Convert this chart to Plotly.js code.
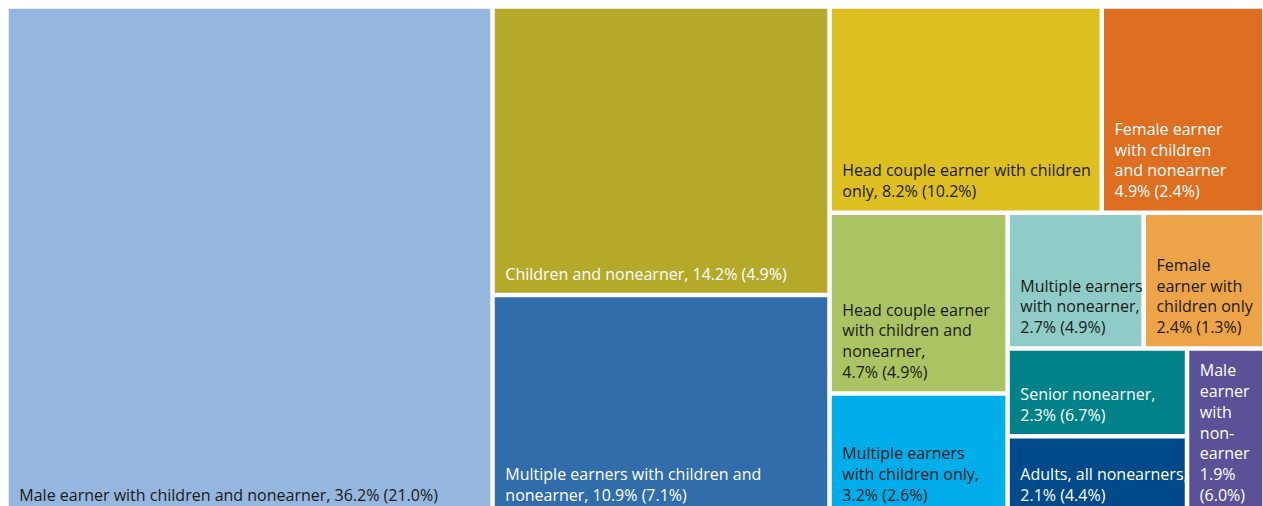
<!DOCTYPE html>
<html>
<head>
<meta charset="utf-8">
<script src="https://cdn.plot.ly/plotly-3.0.1.min.js"></script>
<style>html,body{margin:0;padding:0;background:#fff;overflow:hidden;}#chart{width:1263px;height:515px;}</style>
</head>
<body>
<div id="chart"></div>
<script>
// Household types
var categories = [
  "Male earner with children and nonearner",
  "Children and nonearner",
  "Multiple earners with children and nonearner",
  "Head couple earner with children only",
  "Female earner with children and nonearner",
  "Head couple earner with children and nonearner",
  "Multiple earners with children only",
  "Multiple earners with nonearner",
  "Female earner with children only",
  "Senior nonearner",
  "Adults, all nonearners",
  "Male earner with nonearner"
];
// Same names, wrapped for display
var wrappedNames = [
  "Male earner with children and nonearner",
  "Children and nonearner",
  "Multiple earners with children and<br>nonearner",
  "Head couple earner with children<br>only",
  "Female earner<br>with children<br>and nonearner",
  "Head couple earner<br>with children and<br>nonearner",
  "Multiple earners<br>with children only",
  "Multiple earners<br>with nonearner",
  "Female<br>earner with<br>children only",
  "Senior nonearner",
  "Adults, all nonearners",
  "Male<br>earner<br>with<br>non-<br>earner"
];
var nameSep = [", ", ", ", ", ", ", ", "<br>", ",<br>", ",<br>", ",<br>", "<br>", ",<br>", ",<br>", "<br>"];
var valueSep = [" ", " ", " ", " ", " ", " ", " ", " ", " ", " ", " ", "<br>"];
// First share (sets tile area) and the share shown in parentheses
var shareMain = [36.2, 14.2, 10.9, 8.2, 4.9, 4.7, 3.2, 2.7, 2.4, 2.3, 2.1, 1.9];
var shareParen = [21.0, 4.9, 7.1, 10.2, 2.4, 4.9, 2.6, 4.9, 1.3, 6.7, 4.4, 6.0];
var colors = ["#95B6DF", "#B5A92A", "#316DAA", "#DDBF22", "#DE6E20", "#ABC463",
              "#00ADEB", "#8FCBC7", "#EDA448", "#008288", "#004A8A", "#5B5197"];
var textColors = ["#1a1a1a", "#ffffff", "#ffffff", "#1a1a1a", "#ffffff", "#1a1a1a",
                  "#1a1a1a", "#1a1a1a", "#1a1a1a", "#ffffff", "#ffffff", "#ffffff"];

var PAD = "\u00a0\u00a0";
var BOTTOM_GAP = "<span style=\"font-size:36px\">\u00a0</span>";
var texts = categories.map(function (c, i) {
  var s = wrappedNames[i] + nameSep[i] + shareMain[i].toFixed(1) + "%" + valueSep[i] + "(" + shareParen[i].toFixed(1) + "%)";
  return s.split("<br>").map(function (line) { return PAD + line; }).join("<br>") + BOTTOM_GAP;
});

var H = 515;
var trace = {
  type: "treemap",
  labels: categories,
  parents: categories.map(function () { return ""; }),
  values: shareMain,
  text: texts,
  texttemplate: "%{text}",
  textinfo: "text",
  textposition: "bottom left",
  hoverinfo: "label+value",
  sort: true,
  tiling: { packing: "squarify", squarifyratio: 1.24 },
  marker: {
    colors: colors,
    line: { color: "#ffffff", width: 1.5 },
    pad: { t: 0, l: 0, r: 0, b: 0 }
  },
  textfont: { family: "Open Sans, sans-serif", size: 16, color: textColors },
  pathbar: { visible: false },
  domain: { x: [8 / 1263, 1], y: [0, 1 - 8 / H] }
};

var layout = {
  width: 1263,
  height: H,
  margin: { l: 0, r: 0, t: 0, b: 0 },
  paper_bgcolor: "#ffffff",
  showlegend: false,
  uniformtext: { minsize: 16, mode: "show" }
};

Plotly.newPlot("chart", [trace], layout, { displayModeBar: false, staticPlot: true });
</script>
</body>
</html>
